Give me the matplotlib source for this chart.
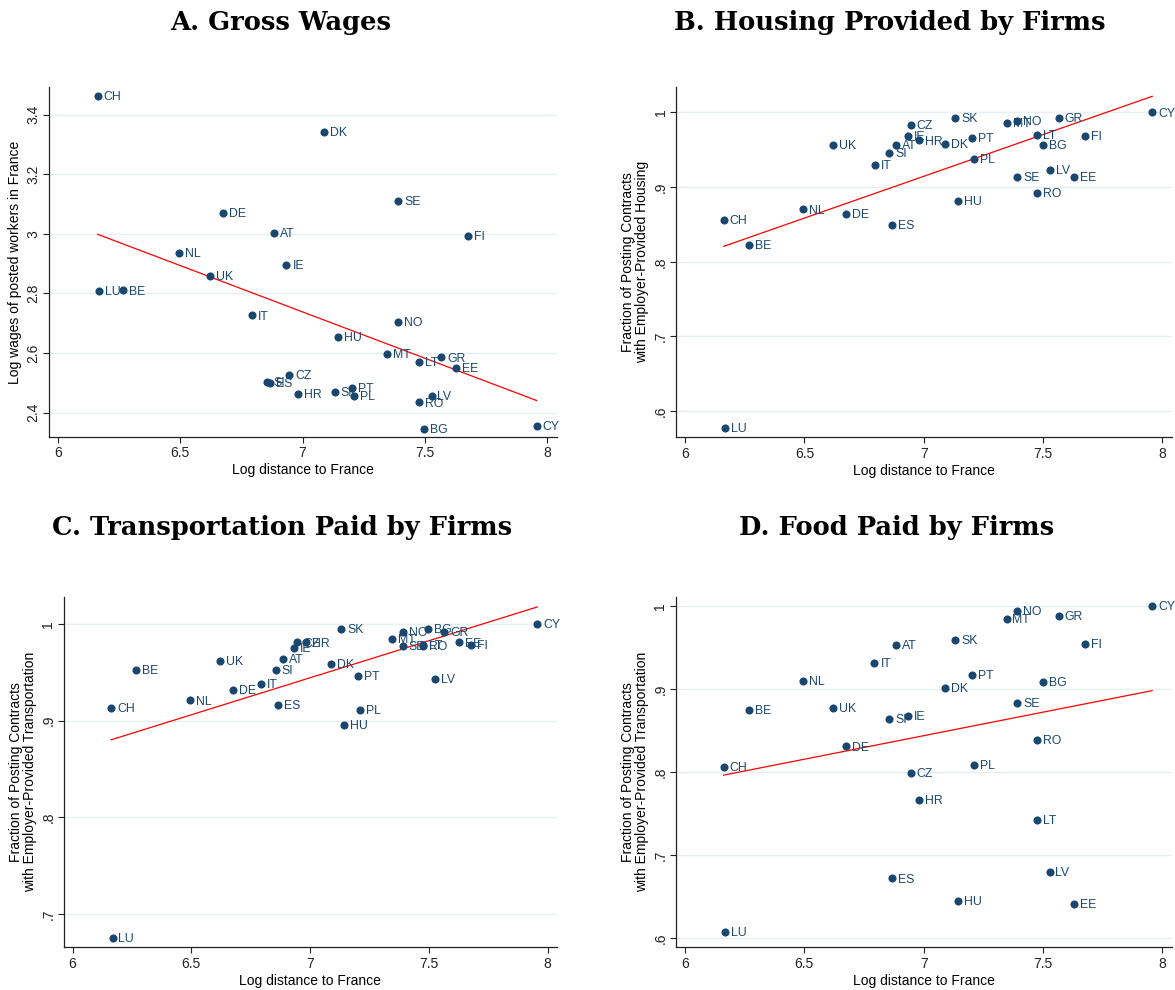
import numpy as np
import matplotlib
matplotlib.use("Agg")
import matplotlib.pyplot as plt

# country codes and log distance to France
countries = ["CH", "LU", "BE", "NL", "UK", "DE", "IT", "SI", "ES", "AT", "IE", "CZ", "HR", "DK", "SK",
             "HU", "PT", "PL", "MT", "NO", "SE", "LT", "RO", "BG", "LV", "GR", "EE", "FI", "CY"]
log_dist = [6.162, 6.168, 6.267, 6.494, 6.621, 6.674, 6.794, 6.855, 6.867, 6.885, 6.934, 6.946, 6.981, 7.088, 7.131,
            7.145, 7.201, 7.212, 7.347, 7.390, 7.391, 7.474, 7.474, 7.498, 7.527, 7.566, 7.629, 7.676, 7.957]

# panel values, same order as countries
log_wages = [3.462, 2.807, 2.810, 2.937, 2.860, 3.069, 2.726, 2.504, 2.499, 3.003, 2.897, 2.526, 2.462, 3.342, 2.470,
             2.654, 2.483, 2.455, 2.597, 2.703, 3.111, 2.570, 2.434, 2.346, 2.457, 2.585, 2.551, 2.994, 2.354]
housing = [0.856, 0.577, 0.822, 0.870, 0.957, 0.864, 0.930, 0.946, 0.849, 0.957, 0.968, 0.983, 0.9625, 0.958, 0.993,
           0.882, 0.966, 0.9375, 0.986, 0.989, 0.914, 0.970, 0.892, 0.956, 0.923, 0.992, 0.914, 0.968, 1.000]
transport = [0.9135, 0.675, 0.9525, 0.921, 0.962, 0.932, 0.9377, 0.953, 0.9166, 0.9635, 0.975, 0.981, 0.981, 0.959, 0.995,
             0.8956, 0.946, 0.9115, 0.985, 0.992, 0.977, 0.978, 0.977, 0.995, 0.9435, 0.992, 0.981, 0.978, 1.000]
food = [0.8066, 0.608, 0.8746, 0.9095, 0.877, 0.831, 0.932, 0.8645, 0.672, 0.953, 0.8677, 0.799, 0.767, 0.901, 0.959,
        0.6446, 0.917, 0.8082, 0.985, 0.9944, 0.883, 0.742, 0.839, 0.909, 0.680, 0.988, 0.641, 0.954, 1.000]

x_ticks = [6, 6.5, 7, 7.5, 8]
x_tick_labels = ["6", "6.5", "7", "7.5", "8"]
wage_ticks = [2.4, 2.6, 2.8, 3.0, 3.2, 3.4]
wage_tick_labels = ["2.4", "2.6", "2.8", "3", "3.2", "3.4"]
frac_ticks = [0.6, 0.7, 0.8, 0.9, 1.0]
frac_tick_labels = [".6", ".7", ".8", ".9", "1"]

NAVY = "#1a476f"
GRID = "#e8eff1"
W, H = 1175, 990

plt.rcParams["font.family"] = ["Liberation Sans", "DejaVu Sans"]


def px_axes(fig, left, top, right, bottom):
    return fig.add_axes([left / W, 1 - bottom / H, (right - left) / W, (bottom - top) / H])


def draw_panel(ax, x, y, yticks, ylabels, ylim, ylabel, xlim=(5.962, 8.04)):
    x = np.asarray(x)
    y = np.asarray(y)
    ax.set_xlim(*xlim)
    ax.set_ylim(*ylim)
    ax.set_yticks(yticks)
    ax.set_yticklabels(ylabels, rotation=90, va="center")
    ax.set_xticks(x_ticks)
    ax.set_xticklabels(x_tick_labels)
    ax.grid(axis="y", color=GRID, linewidth=1.0)
    ax.set_axisbelow(True)
    for side in ["top", "right"]:
        ax.spines[side].set_visible(False)
    for side in ["left", "bottom"]:
        ax.spines[side].set_linewidth(0.9)
        ax.spines[side].set_color("#222222")
    ax.tick_params(direction="out", length=4, width=0.8, labelsize=10, colors="#222222", pad=3)
    ax.tick_params(axis="y", pad=2)

    ax.scatter(x, y, s=34, color=NAVY, zorder=3, linewidths=0)
    for code, xi, yi in zip(countries, x, y):
        ax.annotate(code, (xi, yi), xytext=(4.3, -0.8), textcoords="offset points",
                    ha="left", va="center", fontsize=8.8, color=NAVY, zorder=4)

    slope, intercept = np.polyfit(x, y, 1)
    xs = np.array([x.min(), x.max()])
    ax.plot(xs, intercept + slope * xs, color="red", linewidth=0.9, zorder=2)

    ax.set_xlabel("Log distance to France", fontsize=10, labelpad=2)
    ax.set_ylabel(ylabel, fontsize=10, labelpad=3, linespacing=1.05)


fig = plt.figure(figsize=(W / 100, H / 100), dpi=100)

ax_a = px_axes(fig, 48.7, 87.3, 557, 436.7)
draw_panel(ax_a, log_dist, log_wages, wage_ticks, wage_tick_labels, (2.319, 3.492),
           "Log wages of posted workers in France")

ax_b = px_axes(fig, 676, 87, 1172, 437.3)
draw_panel(ax_b, log_dist, housing, frac_ticks, frac_tick_labels, (0.565, 1.034),
           "Fraction of Posting Contracts\nwith Employer-Provided Housing")

ax_c = px_axes(fig, 63.6, 597, 557, 947)
draw_panel(ax_c, log_dist, transport, frac_ticks[1:], frac_tick_labels[1:], (0.666, 1.028),
           "Fraction of Posting Contracts\nwith Employer-Provided Transportation")

ax_d = px_axes(fig, 675.8, 597, 1172, 947.3)
draw_panel(ax_d, log_dist, food, frac_ticks, frac_tick_labels, (0.589, 1.011),
           "Fraction of Posting Contracts\nwith Employer-Provided Transportation")

title_kw = dict(ha="center", va="baseline", fontsize=18.5, fontweight="bold",
                family=["DejaVu Serif", "Liberation Serif"])
fig.text(281 / W, 1 - 30 / H, "A. Gross Wages", **title_kw)
fig.text(890 / W, 1 - 30 / H, "B. Housing Provided by Firms", **title_kw)
fig.text(282 / W, 1 - 535 / H, "C. Transportation Paid by Firms", **title_kw)
fig.text(897 / W, 1 - 535 / H, "D. Food Paid by Firms", **title_kw)

fig.savefig("out.png", dpi=100)
